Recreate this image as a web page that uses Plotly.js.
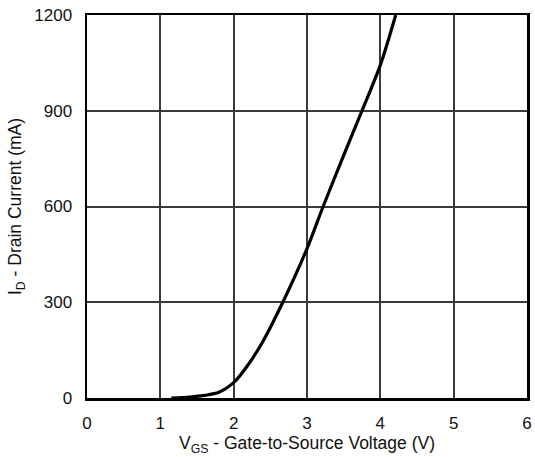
<!DOCTYPE html>
<html>
<head>
<meta charset="utf-8">
<script src="https://cdn.plot.ly/plotly-3.0.1.min.js"></script>
<style>html,body{margin:0;padding:0;background:#fff;}#chart{width:535px;height:457px;}</style>
</head>
<body>
<div id="chart"></div>
<script>
const vgs = [1.15, 1.4, 1.6, 1.8, 2.0, 2.2, 2.4, 2.67, 3.0, 3.22, 3.5, 3.75, 4.0, 4.21];
const idmA = [0, 3, 8, 18, 48, 105, 178, 300, 468, 600, 760, 900, 1043, 1200];
const xTicks = [0, 1, 2, 3, 4, 5, 6];
const yTicks = [0, 300, 600, 900, 1200];
const xTitle = 'V<sub>GS</sub> - Gate-to-Source Voltage (V)';
const yTitle = 'I<sub>D</sub> - Drain Current (mA)';

const tickFont = {family: 'Liberation Sans, Arial, sans-serif', size: 17, color: '#111'};
const titleFont = {family: 'Liberation Sans, Arial, sans-serif', size: 17.5, color: '#111'};

Plotly.newPlot('chart', [{
  x: vgs, y: idmA, type: 'scatter', mode: 'lines',
  line: {color: '#000', width: 3.2, shape: 'spline', smoothing: 0.8},
  hoverinfo: 'skip'
}], {
  width: 535, height: 457,
  margin: {l: 87, r: 8, t: 15, b: 59},
  paper_bgcolor: '#fff', plot_bgcolor: '#fff',
  showlegend: false,
  font: tickFont,
  xaxis: {
    range: [0, 6], tickvals: xTicks, ticktext: xTicks.map(String),
    showgrid: true, gridcolor: '#3a3a3a', gridwidth: 2,
    zeroline: false, showline: true, linecolor: '#000', linewidth: 2.5, mirror: true,
    ticks: '', ticklabelstandoff: 8, tickfont: tickFont,
    title: {text: xTitle, font: titleFont, standoff: 4}
  },
  yaxis: {
    range: [0, 1200], tickvals: yTicks, ticktext: yTicks.map(String),
    showgrid: true, gridcolor: '#3a3a3a', gridwidth: 2,
    zeroline: false, showline: true, linecolor: '#000', linewidth: 2.5, mirror: true,
    ticks: '', ticklabelstandoff: 9, tickfont: tickFont,
    title: {text: yTitle, font: titleFont, standoff: 8}
  }
}, {displayModeBar: false, staticPlot: true});
</script>
</body>
</html>
